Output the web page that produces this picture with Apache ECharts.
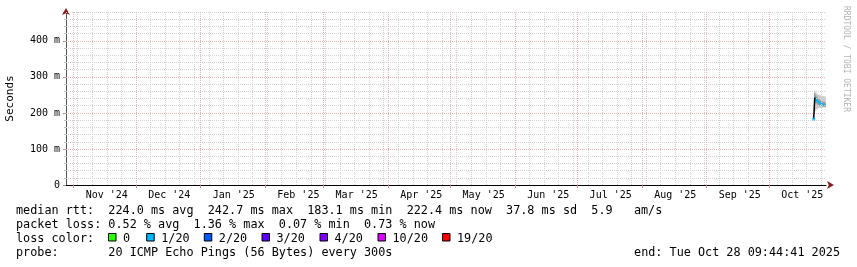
<!DOCTYPE html>
<html>
<head>
<meta charset="utf-8">
<script src="https://cdn.jsdelivr.net/npm/echarts@6/dist/echarts.min.js"></script>
<style>
html, body { margin: 0; padding: 0; background: #fff; }
#graph { width: 857px; height: 267px; }
</style>
</head>
<body>
<div id="graph"></div>
<script>
var DAY = 24 * 3600 * 1000;
function t(s) { return Date.parse(s + 'Z'); }

// graph window: one year ending at the "end:" time
var endTime = t('2025-10-28T09:44:41');
var startTime = endTime - 365 * DAY;

// x axis: month starts (major grid) and their labels
var monthStarts = ['2024-11-01', '2024-12-01', '2025-01-01', '2025-02-01', '2025-03-01', '2025-04-01',
    '2025-05-01', '2025-06-01', '2025-07-01', '2025-08-01', '2025-09-01', '2025-10-01'];
var monthLabels = ["Nov '24", "Dec '24", "Jan '25", "Feb '25", "Mar '25", "Apr '25",
    "May '25", "Jun '25", "Jul '25", "Aug '25", "Sep '25", "Oct '25"];
var firstWeek = '2024-11-03';

// y axis ticks (ms)
var yTicks = [0, 100, 200, 300, 400];
var yMax = 480;

// median rtt (ms), consolidated every 12 hours
var times = ['2025-10-22T12:00', '2025-10-23T00:00', '2025-10-23T12:00', '2025-10-24T00:00',
    '2025-10-24T12:00', '2025-10-25T00:00', '2025-10-25T12:00', '2025-10-26T00:00',
    '2025-10-26T12:00', '2025-10-27T00:00', '2025-10-27T12:00', '2025-10-28T00:00'];
var median = [183.1, 242.7, 238.0, 235.0, 231.0, 229.0, 227.0, 225.0, 224.0, 223.0, 223.0, 222.4];
// smoke (ping spread) bounds
var smokeLo = [null, 204, 207, 210, 212, 213, 214, 214, 215, 215, 216, 216];
var smokeHi = [null, 262, 258, 254, 251, 250, 249, 248, 247, 246, 246, 245];
var innerLo = [null, 232, 229, 226, 223, 221, 220, 219, 218, 217, 217, 217];
var innerHi = [null, 254, 249, 245, 241, 238, 236, 234, 232, 231, 230, 229];

var stats = ['224.0', '242.7', '183.1', '222.4', '37.8', '5.9'];
var loss = ['0.52', '1.36', '0.07', '0.73'];
var lossNames = ['0', '1/20', '2/20', '3/20', '4/20', '10/20', '19/20'];
var lossColors = ['#26ff00', '#00b8ff', '#0059ff', '#5e00ff', '#7e00ff', '#dd00ff', '#ff0000'];
var lossBoxX = [108.5, 146.7, 204.3, 262, 320, 378, 442.5];

var monthTimes = monthStarts.map(t);
var labelTimes = monthTimes.map(function (m) { return m + 16 * DAY; });
var weekTimes = [];
for (var w = t(firstWeek); w < endTime; w += 7 * DAY) {
    if (monthTimes.indexOf(w) < 0) weekTimes.push(w);
}
var minorY = [];
for (var y = 20; y <= yMax; y += 20) {
    if (y % 100 !== 0) minorY.push(y);
}

var tms = times.map(t);
function pairs(arr) { return tms.map(function (x, i) { return [x, arr[i]]; }); }
function band(lo, hi) {
    var out = [];
    tms.forEach(function (x, i) { if (lo[i] != null) out.push([x, lo[i], hi[i]]); });
    return out;
}
function bandItem(color) {
    return function (params, api) {
        var x = api.value(0);
        var p1 = api.coord([x - DAY / 4, api.value(2)]);
        var p2 = api.coord([x + DAY / 4, api.value(1)]);
        return { type: 'rect', shape: { x: p1[0], y: p1[1], width: p2[0] - p1[0], height: p2[1] - p1[1] },
            style: { fill: color } };
    };
}

var mono = 'DejaVu Sans Mono';
var gray = { color: '#d2d2d2', type: [1, 1], width: 1 };
var red = { color: '#eeb0b0', type: [1, 1], width: 1 };

var dom = document.getElementById('graph');
var myChart = echarts.init(dom);

var legendText = [
    'median rtt:  ' + stats[0] + ' ms avg  ' + stats[1] + ' ms max  ' + stats[2] + ' ms min  ' +
        stats[3] + ' ms now  ' + stats[4] + ' ms sd  ' + stats[5] + '   am/s',
    'packet loss: ' + loss[0] + ' % avg  ' + loss[1] + ' % max  ' + loss[2] + ' % min  ' + loss[3] + ' % now',
    'loss color:',
    'probe:       20 ICMP Echo Pings (56 Bytes) every 300s'
];
var legendFont = '11.8px "' + mono + '"';
var graphics = [];
legendText.forEach(function (s, i) {
    graphics.push({ type: 'text', x: 16, y: 211 + i * 14,
        style: { text: s, font: legendFont, fill: '#000', verticalAlign: 'middle' } });
});
lossNames.forEach(function (n, i) {
    graphics.push({ type: 'rect', shape: { x: lossBoxX[i], y: 233.5, width: 7.5, height: 7.5 },
        style: { fill: lossColors[i], stroke: '#000', lineWidth: 1 } });
    graphics.push({ type: 'text', x: lossBoxX[i] + 14.5, y: 239,
        style: { text: n, font: legendFont, fill: '#000', verticalAlign: 'middle' } });
});
graphics.push({ type: 'text', x: 840, y: 253,
    style: { text: 'end: Tue Oct 28 09:44:41 2025', font: legendFont, fill: '#000',
        align: 'right', verticalAlign: 'middle' } });
graphics.push({ type: 'text', x: 846, y: 59, rotation: -Math.PI / 2,
    style: { text: 'RRDTOOL / TOBI OETIKER', font: '8px "' + mono + '"', fill: '#b4b4b4',
        align: 'center', verticalAlign: 'middle' } });

option = {
    animation: false,
    grid: { left: 66, right: 31, top: 12, bottom: 82, outerBoundsMode: 'none', containLabel: false },
    xAxis: [{
        type: 'value',
        min: startTime,
        max: endTime,
        axisLine: { show: true, lineStyle: { color: '#000', width: 1 } },
        axisTick: { show: true, customValues: monthTimes, length: 3, inside: false,
            lineStyle: { color: '#e08080' } },
        axisLabel: { customValues: labelTimes, margin: 5, color: '#000',
            fontFamily: mono, fontSize: 10,
            formatter: function (v) { return monthLabels[labelTimes.indexOf(v)] || ''; } },
        splitLine: { show: false }
    }, {
        type: 'value',
        min: startTime,
        max: endTime,
        position: 'bottom',
        axisLine: { show: true, symbol: ['none', 'arrow'], symbolSize: [6, 7], symbolOffset: [0, 8],
            lineStyle: { color: '#8b1a1a', width: 0 } },
        axisTick: { show: false },
        axisLabel: { show: false },
        splitLine: { show: false }
    }],
    yAxis: [{
        type: 'value',
        min: 0,
        max: yMax,
        interval: 100,
        name: 'Seconds',
        nameLocation: 'middle',
        nameGap: 50,
        nameRotate: 90,
        nameTextStyle: { fontFamily: mono, fontSize: 11, color: '#000' },
        axisLine: { show: true, lineStyle: { color: '#555', width: 1 } },
        axisTick: { show: true, length: 3, lineStyle: { color: '#999' } },
        minorTick: { show: true, splitNumber: 5, length: 2, lineStyle: { color: '#bbb' } },
        axisLabel: { margin: 6, color: '#000', fontFamily: mono, fontSize: 10, showMaxLabel: false,
            formatter: function (v) { return yTicks.indexOf(v) < 0 ? '' : (v === 0 ? '0' : v + ' m'); } },
        splitLine: { show: false }
    }, {
        type: 'value',
        min: 0,
        max: yMax,
        position: 'left',
        axisLine: { show: true, symbol: ['none', 'arrow'], symbolSize: [6, 7], symbolOffset: [0, 4],
            lineStyle: { color: '#8b1a1a', width: 0 } },
        axisTick: { show: false },
        axisLabel: { show: false },
        splitLine: { show: false }
    }],
    graphic: graphics,
    series: [{
        name: 'grid',
        type: 'line',
        data: [],
        silent: true,
        z: 1,
        markLine: {
            silent: true, symbol: 'none', label: { show: false }, animation: false,
            data: weekTimes.map(function (x) { return { xAxis: x, lineStyle: gray }; })
                .concat(minorY.map(function (v) { return { yAxis: v, lineStyle: gray }; }))
                .concat(monthTimes.map(function (x) { return { xAxis: x, lineStyle: red }; }))
                .concat(yTicks.slice(1).map(function (v) { return { yAxis: v, lineStyle: red }; }))
        }
    }, {
        name: 'smoke', type: 'custom', data: band(smokeLo, smokeHi),
        encode: { x: 0, y: [1, 2] }, renderItem: bandItem('#bcbcbc'), z: 2
    }, {
        name: 'inner', type: 'custom', data: band(innerLo, innerHi),
        encode: { x: 0, y: [1, 2] }, renderItem: bandItem('#8c8c8c'), z: 3
    }, {
        name: 'median', type: 'line', data: pairs(median).slice(1),
        symbol: 'none', lineStyle: { color: lossColors[1], width: 2 }, z: 4
    }, {
        name: 'jump', type: 'line', data: pairs(median).slice(0, 2),
        symbol: 'none', lineStyle: { color: '#000', width: 1.5 }, z: 5
    }, {
        name: 'first', type: 'scatter', data: pairs(median).slice(0, 1),
        symbol: 'rect', symbolSize: 3, itemStyle: { color: lossColors[1] }, z: 6
    }]
};
if (option && typeof option === "object") {
    myChart.setOption(option, true);
}
</script>
</body>
</html>
